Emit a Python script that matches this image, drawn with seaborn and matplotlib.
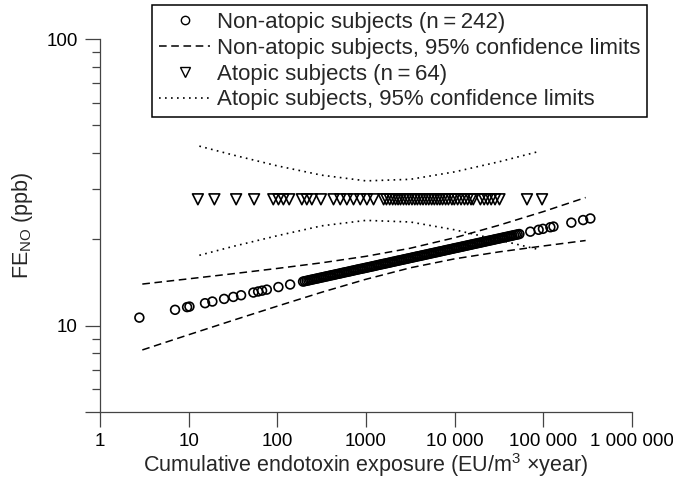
import matplotlib
matplotlib.use("Agg")
import matplotlib.pyplot as plt
from matplotlib.lines import Line2D
from matplotlib.ticker import NullFormatter, NullLocator
import seaborn as sns

# non-atopic subjects: predicted FeNO vs cumulative endotoxin exposure
# (sparse points on the left, dense band in the middle, sparse points on the right)
left_x = [2.78, 7.02, 9.6, 10.2, 15.3, 18.5, 25.1, 31.9, 39.0, 53.7, 60.7, 67.3, 76.1, 102.8, 139.4]
left_y = [10.67, 11.36, 11.61, 11.66, 11.98, 12.14, 12.40, 12.60, 12.77, 13.05, 13.16, 13.25, 13.36,
          13.64, 13.92]

band_x = [195, 204, 214, 224, 234, 245, 257, 269, 282, 295, 309, 324, 339, 355, 372, 389, 407, 427,
          447, 468, 490, 513, 537, 562, 589, 617, 646, 676, 708, 741, 776, 813, 851, 891, 933, 977,
          1023, 1072, 1122, 1175, 1230, 1288, 1349, 1413, 1479, 1549, 1622, 1698, 1778, 1862, 1950,
          2042, 2138, 2239, 2344, 2455, 2570, 2692, 2818, 2951, 3090, 3236, 3388, 3548, 3715, 3891,
          4074, 4266, 4467, 4677, 4898, 5129, 5370, 5623, 5888, 6166, 6457, 6761, 7079, 7413, 7762,
          8128, 8511, 8913, 9333, 9772,
          10230, 10720, 11220, 11750, 12300, 12880, 13490, 14130, 14790, 15490, 16220, 16980, 17780,
          18620, 19500, 20420, 21380, 22390, 23440, 24550, 25700, 26920, 28180, 29510, 30900, 32360,
          33880, 35480, 37150, 38910, 40740, 42660, 44670, 46770, 48980, 51290, 53700]
band_y = [14.25, 14.30, 14.34, 14.39, 14.43, 14.48, 14.52, 14.57, 14.61, 14.66,
          14.71, 14.75, 14.80, 14.85, 14.89, 14.94, 14.99, 15.03, 15.08, 15.13,
          15.17, 15.22, 15.27, 15.32, 15.37, 15.41, 15.46, 15.51, 15.56, 15.61,
          15.66, 15.71, 15.76, 15.80, 15.85, 15.90, 15.95, 16.00, 16.05, 16.10,
          16.15, 16.20, 16.26, 16.31, 16.36, 16.41, 16.46, 16.51, 16.56, 16.61,
          16.67, 16.72, 16.77, 16.83, 16.88, 16.93, 16.98, 17.04, 17.09, 17.14,
          17.20, 17.25, 17.31, 17.36, 17.42, 17.47, 17.52, 17.58, 17.63, 17.69,
          17.74, 17.80, 17.86, 17.91, 17.97, 18.02, 18.08, 18.14, 18.19, 18.25,
          18.31, 18.37, 18.42, 18.48, 18.54, 18.60, 18.66, 18.71, 18.77, 18.83,
          18.89, 18.95, 19.01, 19.07, 19.13, 19.19, 19.25, 19.31, 19.37, 19.43,
          19.49, 19.55, 19.61, 19.68, 19.74, 19.80, 19.86, 19.92, 19.99, 20.05,
          20.11, 20.17, 20.24, 20.30, 20.37, 20.43, 20.49, 20.56, 20.62, 20.69,
          20.75, 20.81, 20.88]

right_x = [71300, 88500, 99000, 120000, 130000, 207000, 281000, 339000]
right_y = [21.28, 21.60, 21.77, 22.05, 22.17, 22.88, 23.36, 23.66]

# atopic subjects (constant prediction)
atopic_x = [12.7, 19.5, 34.3, 54.7, 90, 103, 117, 136, 189, 215, 245, 310, 430, 512, 608, 723, 861, 1023,
            1216, 1580, 1700, 1850, 2000, 2150, 2300, 2450, 2650, 2850, 3050, 3300, 3550, 3800, 4100,
            4400, 4750, 5100, 5500, 5900, 6350, 6800, 7300, 7900, 8500, 9300, 9900, 10800, 11800, 12900,
            14000, 15300, 16200, 19500, 21500, 23500, 25800, 28500, 32000, 65400, 96700]
atopic_y = [27.6] * len(atopic_x)

# 95% confidence limits
ci_nonatopic_x = [3, 10, 31.6, 100, 316, 1000, 3162, 10000, 31623, 100000, 300000]
ci_nonatopic_upper = [13.97, 14.57, 15.18, 15.84, 16.57, 17.46, 18.63, 20.27, 22.41, 25.0, 27.99]
ci_nonatopic_lower = [8.23, 9.30, 10.44, 11.70, 13.08, 14.52, 15.92, 17.11, 18.09, 18.97, 19.82]

ci_atopic_x = [13.2, 31.6, 100, 316, 1000, 3162, 10000, 31623, 91200]
ci_atopic_upper = [42.3, 39.4, 36.1, 33.5, 32.0, 32.4, 34.4, 37.3, 40.6]
ci_atopic_lower = [17.6, 18.9, 20.6, 22.3, 23.3, 23.0, 21.6, 19.9, 18.4]

x_ticks = [1, 10, 100, 1000, 10000, 100000, 1000000]
x_ticklabels = ["1", "10", "100", "1000", "10 000", "100 000", "1 000 000"]

nonatopic_x = left_x + band_x + right_x
nonatopic_y = left_y + band_y + right_y

sns.set_style("ticks")
plt.rcParams["font.family"] = ["Liberation Sans", "DejaVu Sans"]
plt.rcParams["mathtext.fontset"] = "custom"
plt.rcParams["mathtext.rm"] = "Liberation Sans"

fig = plt.figure(figsize=(6.73, 4.79), dpi=100)
ax = fig.add_axes([100 / 673, 1 - 412 / 479, 532 / 673, 373 / 479])

dash = (0, (5, 3))
dot = (0, (1, 2.6))

sns.lineplot(x=ci_nonatopic_x, y=ci_nonatopic_upper, ax=ax, color="black", lw=1.1, linestyle=dash)
sns.lineplot(x=ci_nonatopic_x, y=ci_nonatopic_lower, ax=ax, color="black", lw=1.1, linestyle=dash)
sns.lineplot(x=ci_atopic_x, y=ci_atopic_upper, ax=ax, color="black", lw=1.2, linestyle=dot)
sns.lineplot(x=ci_atopic_x, y=ci_atopic_lower, ax=ax, color="black", lw=1.2, linestyle=dot)

sns.scatterplot(x=nonatopic_x, y=nonatopic_y, ax=ax, marker="o", s=40,
                facecolors="none", edgecolors="black", linewidth=1.2)
sns.scatterplot(x=atopic_x, y=atopic_y, ax=ax, marker="v", s=60,
                facecolors="none", edgecolors="black", linewidth=1.2)

ax.set_xscale("log")
ax.set_yscale("log")
ax.set_xlim(1, 1e6)
ax.set_ylim(5, 100)

ax.set_xticks(x_ticks)
ax.set_xticklabels(x_ticklabels)
ax.xaxis.set_minor_locator(NullLocator())
ax.set_yticks([5, 10, 100])
ax.set_yticklabels(["", "10", "100"])
ax.set_yticks([6, 7, 8, 9, 20, 30, 40, 50, 60, 70, 80, 90], minor=True)
ax.yaxis.set_minor_formatter(NullFormatter())

ax.tick_params(axis="both", which="major", length=11, width=0.9, color="#444444",
               labelsize=13.5, labelcolor="black")
ax.tick_params(axis="y", which="minor", length=6, width=0.9, color="#444444")
ax.tick_params(axis="y", which="major", pad=5)
ax.tick_params(axis="x", which="major", pad=4)

for side in ["top", "right"]:
    ax.spines[side].set_visible(False)
for side in ["left", "bottom"]:
    ax.spines[side].set_color("#444444")
    ax.spines[side].set_linewidth(0.9)

ax.set_xlabel("Cumulative endotoxin exposure (EU/m$^{\\mathregular{3}}$ \u00d7year)", fontsize=15.5, labelpad=1)
ax.set_ylabel("FE$_{\\mathregular{NO}}$ (ppb)", fontsize=15.5, labelpad=8)

handles = [
    Line2D([], [], marker="o", linestyle="none", markerfacecolor="none", markeredgecolor="black",
           markersize=6, markeredgewidth=1.0),
    Line2D([], [], color="black", lw=1.1, linestyle=dash),
    Line2D([], [], marker="v", linestyle="none", markerfacecolor="none", markeredgecolor="black",
           markersize=7, markeredgewidth=1.0),
    Line2D([], [], color="black", lw=1.2, linestyle=dot),
]
labels = [
    "Non-atopic subjects (n\u2009=\u2009242)",
    "Non-atopic subjects, 95% confidence limits",
    "Atopic subjects (n\u2009=\u200964)",
    "Atopic subjects, 95% confidence limits",
]
leg = ax.legend(handles, labels, loc="upper right", bbox_to_anchor=(1.028, 1.091),
                borderaxespad=0, fontsize=16, frameon=True, fancybox=False,
                handlelength=2.3, handletextpad=0.3, labelspacing=0.22, borderpad=0.3)
leg.get_frame().set_edgecolor("black")
leg.get_frame().set_linewidth(1.1)
leg.get_frame().set_alpha(1)

fig.savefig("out.png", dpi=100)
